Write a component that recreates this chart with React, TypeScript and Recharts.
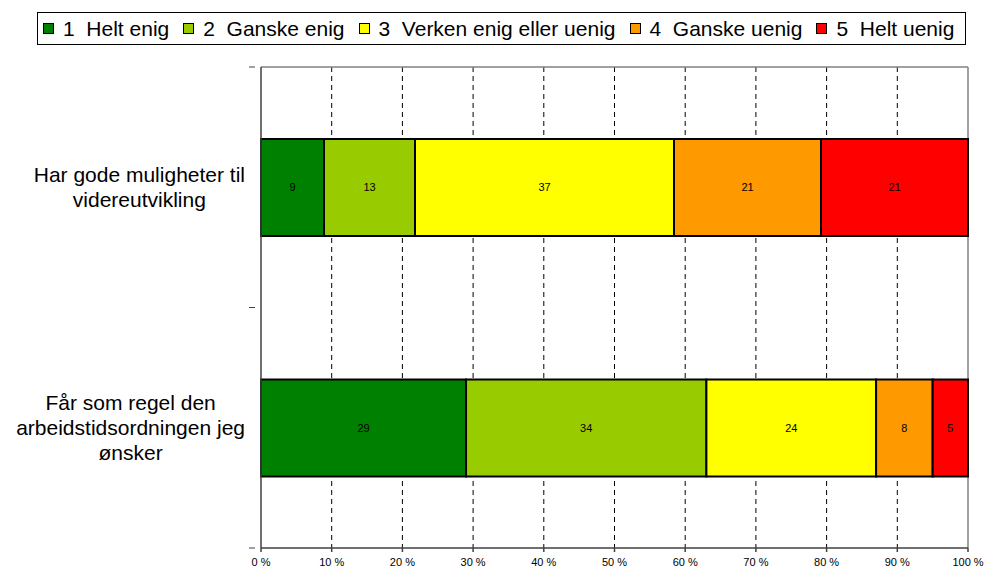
import React from 'react';
import { BarChart, Bar, XAxis, YAxis, CartesianGrid, LabelList } from 'recharts';

const categories = [
  'Har gode muligheter til\nvidereutvikling',
  'Får som regel den\narbeidstidsordningen jeg\nønsker',
];
const seriesKeys = ['s1', 's2', 's3', 's4', 's5'];
const seriesNames = ['1  Helt enig', '2  Ganske enig', '3  Verken enig eller uenig', '4  Ganske uenig', '5  Helt uenig'];
const seriesColors = ['#008000', '#99CC00', '#FFFF00', '#FF9900', '#FF0000'];
const helt_enig = [9, 29];
const ganske_enig = [13, 34];
const verken = [37, 24];
const ganske_uenig = [21, 8];
const helt_uenig = [21, 5];
const xTicks = [0, 0.1, 0.2, 0.3, 0.4, 0.5, 0.6, 0.7, 0.8, 0.9, 1];

const data = categories.map((name, i) => ({
  name,
  s1: helt_enig[i],
  s2: ganske_enig[i],
  s3: verken[i],
  s4: ganske_uenig[i],
  s5: helt_uenig[i],
}));

const W = 989;
const H = 571;
const MARGIN = { top: 67, right: 21, bottom: 0, left: 0 };
const X_AXIS_H = 23;
const Y_AXIS_W = 261;
const FONT = '"Liberation Sans", Arial, sans-serif';
const LABEL_SIZE = 21;

let ctx: CanvasRenderingContext2D | null = null;
const measure = (s: string) => {
  if (!ctx) ctx = document.createElement('canvas').getContext('2d');
  if (!ctx) return s.length * 10;
  ctx.font = `${LABEL_SIZE}px ${FONT}`;
  return ctx.measureText(s).width;
};

const YTick = (props: any) => {
  const { x, y, payload } = props;
  const lines = String(payload.value).split('\n');
  const blockW = Math.max(...lines.map(measure));
  const cx = x - blockW / 2;
  const lh = 25;
  const y0 = y - ((lines.length - 1) * lh) / 2;
  const axisX = x + 10;
  const plotH = H - MARGIN.top - MARGIN.bottom - X_AXIS_H;
  const half = plotH / categories.length / 2;
  return (
    <g>
      <line x1={axisX - 6} x2={axisX} y1={y - half} y2={y - half} stroke="#404040" />
      <line x1={axisX - 6} x2={axisX} y1={y + half} y2={y + half} stroke="#404040" />
      {lines.map((l, i) => (
        <text key={i} x={cx} y={y0 + i * lh} textAnchor="middle" dominantBaseline="central"
          fontSize={LABEL_SIZE} fontFamily={FONT} fill="#000">
          {l}
        </text>
      ))}
    </g>
  );
};

const Legend = () => (
  <div style={{
    position: 'absolute', left: 37, top: 12, width: 929, height: 33, boxSizing: 'border-box',
    border: '1px solid #000', display: 'flex', alignItems: 'center', paddingLeft: 5,
    fontFamily: FONT, fontSize: LABEL_SIZE, gap: 14, background: '#fff',
  }}>
    {seriesNames.map((n, i) => (
      <div key={n} style={{ display: 'flex', alignItems: 'center', whiteSpace: 'pre' }}>
        <span style={{
          display: 'inline-block', width: 11, height: 11, boxSizing: 'border-box',
          border: '1.5px solid #000', background: seriesColors[i], marginRight: 9,
        }} />
        <span>{n}</span>
      </div>
    ))}
  </div>
);

export default function App() {
  return (
    <div style={{ position: 'absolute', left: 0, top: 0, width: W, height: H, background: '#fff' }}>
      <BarChart width={W} height={H} data={data} layout="vertical" stackOffset="expand" margin={MARGIN}>
        <CartesianGrid
          horizontal={false}
          stroke="#000"
          strokeDasharray="5 4"
          verticalCoordinatesGenerator={({ offset }: any) =>
            xTicks.slice(1, -1).map(t => offset.left + t * offset.width)}
        />
        <CartesianGrid
          stroke="#808080"
          strokeWidth={1.5}
          horizontalCoordinatesGenerator={({ offset }: any) => [offset.top]}
          verticalCoordinatesGenerator={({ offset }: any) => [offset.left + offset.width]}
        />
        <XAxis
          type="number"
          domain={[0, 1]}
          ticks={xTicks}
          height={X_AXIS_H}
          tickSize={4}
          tickMargin={6}
          stroke="#404040"
          strokeWidth={1.5}
          tick={{ fontSize: 11, fontFamily: FONT, fill: '#000' }}
          tickFormatter={(v: number) => `${Math.round(v * 100)} %`}
        />
        <YAxis
          type="category"
          dataKey="name"
          width={Y_AXIS_W}
          tickLine={false}
          tickMargin={10}
          stroke="#404040"
          strokeWidth={1.5}
          tick={<YTick />}
          interval={0}
        />
        {seriesKeys.map((k, i) => (
          <Bar key={k} dataKey={k} stackId="a" fill={seriesColors[i]} stroke="#000" strokeWidth={2}
            barSize={97} isAnimationActive={false}>
            <LabelList dataKey={k} position="center" fontSize={11} fontFamily={FONT} fill="#000" />
          </Bar>
        ))}
      </BarChart>
      <Legend />
    </div>
  );
}
